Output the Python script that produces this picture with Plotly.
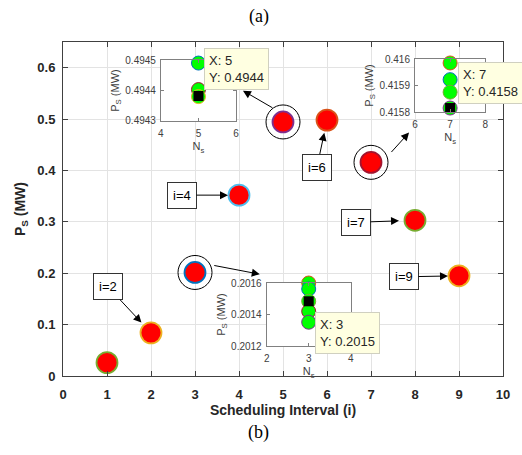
import plotly.graph_objects as go

# ---------------- data ----------------
intervals = [1, 2, 3, 4, 5, 6, 7, 8, 9]
ps_main = [0.026, 0.084, 0.2015, 0.352, 0.4944, 0.498, 0.4158, 0.303, 0.195]
edge_main = ["#77AC30", "#EDB120", "#0072BD", "#4DBEEE", "#7E2F8E",
             "#D95319", "#A2142F", "#77AC30", "#EDB120"]
highlight = [3, 5, 7]

x_ticks = list(range(0, 11))
y_ticks = [0, 0.1, 0.2, 0.3, 0.4, 0.5, 0.6]
y_ticklabels = ["0", "0.1", "0.2", "0.3", "0.4", "0.5", "0.6"]

# inset for i=5
ns5 = [5, 5, 5]
ps5 = [0.49449, 0.494403, 0.49438]
edge5 = ["#0072BD", "#A2142F", "#EDB120"]
sq5_x, sq5_y = [5], [0.494382]
ins5_yt = [0.4943, 0.4944, 0.4945]
ins5_ytl = ["0.4943", "0.4944", "0.4945"]
ins5_xt = [4, 5, 6]

# inset for i=7
ns7 = [7, 7, 7, 7]
ps7 = [0.415985, 0.415922, 0.415875, 0.415815]
edge7 = ["#D95319", "#0072BD", "#77AC30", "#7E2F8E"]
sq7_x, sq7_y = [7], [0.415815]
ins7_yt = [0.4158, 0.4159, 0.4160]
ins7_ytl = ["0.4158", "0.4159", "0.416"]
ins7_xt = [6, 7, 8]

# inset for i=3
ns3 = [3, 3, 3, 3, 3]
ps3 = [0.2016, 0.201562, 0.201484, 0.20142, 0.201351]
edge3 = ["#D95319", "#0072BD", "#77AC30", "#A2142F", "#7E2F8E"]
sq3_x, sq3_y = [3], [0.201484]
ins3_yt = [0.2012, 0.2014, 0.2016]
ins3_ytl = ["0.2012", "0.2014", "0.2016"]
ins3_xt = [2, 3, 4]

# datatip texts
tips = [("X: 5<br>Y: 0.4944", 0.3213, 0.982),
        ("X: 7<br>Y: 0.4158", 0.8966, 0.940),
        ("X: 3<br>Y: 0.2015", 0.5730, 0.1916)]

FONT = "Liberation Sans, Arial, sans-serif"
GREY = "#404040"

fig = go.Figure()

# main points
fig.add_trace(go.Scatter(
    x=intervals, y=ps_main, mode="markers",
    marker=dict(size=21, color="#FF0000",
                line=dict(color=edge_main, width=1.8)),
    showlegend=False, cliponaxis=False))

# highlight rings
fig.add_trace(go.Scatter(
    x=highlight, y=[ps_main[i - 1] for i in highlight], mode="markers",
    marker=dict(size=34, symbol="circle-open", color="black",
                line=dict(color="black", width=1)),
    showlegend=False, cliponaxis=False))


def inset(xa, ya, ns, ps, edges, sqx, sqy):
    fig.add_trace(go.Scatter(
        x=ns, y=ps, mode="markers", xaxis=xa, yaxis=ya,
        marker=dict(size=14, color="#00FF00", line=dict(color=edges, width=1)),
        showlegend=False, cliponaxis=False))
    fig.add_trace(go.Scatter(
        x=sqx, y=sqy, mode="markers", xaxis=xa, yaxis=ya,
        marker=dict(size=10, symbol="square", color="black",
                    line=dict(color="black", width=0)),
        showlegend=False, cliponaxis=False))


inset("x2", "y2", ns5, ps5, edge5, sq5_x, sq5_y)
inset("x3", "y3", ns7, ps7, edge7, sq7_x, sq7_y)
inset("x4", "y4", ns3, ps3, edge3, sq3_x, sq3_y)

main_axis = dict(showline=True, linecolor=GREY, linewidth=1, mirror="ticks",
                 ticks="inside", ticklen=5, tickcolor=GREY,
                 showgrid=True, gridcolor="#e3e3e3", gridwidth=1,
                 zeroline=False,
                 tickfont=dict(family=FONT, size=13, color="#262626", weight="bold"))

ins_tick = dict(family=FONT, size=10, color="#404040")
ins_title = dict(family=FONT, size=11, color="#404040")


def ins_axes(domx, domy, xr, yr, xt, yt, ytl, anchx, anchy):
    xa = dict(domain=domx, range=xr, anchor=anchy, tickvals=xt,
              showline=True, linecolor="#808080", linewidth=1, mirror="ticks",
              ticks="inside", ticklen=3, tickcolor="#808080", showgrid=False,
              zeroline=False, tickfont=ins_tick, ticklabelstandoff=3,
              title=dict(text="N<sub>s</sub>", font=ins_title, standoff=4))
    ya = dict(domain=domy, range=yr, anchor=anchx, tickvals=yt, ticktext=ytl,
              showline=True, linecolor="#808080", linewidth=1, mirror="ticks",
              ticks="inside", ticklen=3, tickcolor="#808080", showgrid=False,
              zeroline=False, tickfont=ins_tick, ticklabelstandoff=2,
              title=dict(text="P<sub>S</sub> (MW)", font=ins_title, standoff=3))
    return xa, ya


x2, y2 = ins_axes([0.2225, 0.3933], [0.7635, 0.9461], [4, 6], [0.4943, 0.4945],
                  ins5_xt, ins5_yt, ins5_ytl, "x2", "y2")
x3, y3 = ins_axes([0.800, 0.9596], [0.7904, 0.9491], [6, 8], [0.4158, 0.4160],
                  ins7_xt, ins7_yt, ins7_ytl, "x3", "y3")
x4, y4 = ins_axes([0.4629, 0.6539], [0.0898, 0.2784], [2, 4], [0.2012, 0.2016],
                  ins3_xt, ins3_yt, ins3_ytl, "x4", "y4")

annotations = []

# labelled arrows: (label, interval index, ax, ay, standoff)
labels = [("i=2", 2, -43, -46, 14), ("i=4", 4, -57, 0, 11), ("i=6", 6, -10, 47, 13),
          ("i=7", 8, -59, 2, 16), ("i=9", 9, -55, 1, 11)]
for txt, idx, ax, ay, so in labels:
    annotations.append(dict(
        x=idx, y=ps_main[idx - 1], xref="x", yref="y", text=txt,
        showarrow=True, arrowhead=2, arrowsize=1.6, arrowwidth=1, arrowcolor="black",
        ax=ax, ay=ay, standoff=so, bordercolor="#333333", borderwidth=1, borderpad=5,
        bgcolor="white", font=dict(family=FONT, size=13, color="black")))

# ring-to-inset arrows: (head x, head y, ax, ay)
ring_arrows = [(4.09, 0.5553, 31, 18), (7.865, 0.4738, -19, 21), (4.472, 0.1981, -47, -9)]
for hx, hy, ax, ay in ring_arrows:
    annotations.append(dict(
        x=hx, y=hy, xref="x", yref="y", text="", showarrow=True,
        arrowhead=2, arrowsize=1.6, arrowwidth=1, arrowcolor="black", ax=ax, ay=ay))

for txt, px, py in tips:
    annotations.append(dict(
        x=px, y=py, xref="paper", yref="paper", xanchor="left", yanchor="top",
        text=txt, align="left", showarrow=False, bgcolor="#FFFFE1",
        bordercolor="#d0d0c0", borderwidth=1, borderpad=4,
        font=dict(family=FONT, size=13, color="#262626")))

annotations.append(dict(x=0.445, y=1.075, xref="paper", yref="paper", text="(a)",
                        xanchor="center", yanchor="middle", showarrow=False,
                        font=dict(family="Liberation Serif, serif", size=18, color="black")))
annotations.append(dict(x=0.445, y=-0.168, xref="paper", yref="paper", text="(b)",
                        xanchor="center", yanchor="middle", showarrow=False,
                        font=dict(family="Liberation Serif, serif", size=18, color="black")))

fig.update_layout(
    width=522, height=455,
    margin=dict(l=63, r=14, t=42, b=79),
    paper_bgcolor="white", plot_bgcolor="white",
    xaxis=dict(main_axis, range=[0, 10], tickvals=x_ticks, ticklabelstandoff=6,
               title=dict(text="Scheduling Interval (i)", standoff=3,
                          font=dict(family=FONT, size=14, color="#262626", weight="bold"))),
    yaxis=dict(main_axis, range=[0, 0.65], tickvals=y_ticks, ticktext=y_ticklabels,
               ticklabelstandoff=4,
               title=dict(text="P<sub>S</sub> (MW)", standoff=8,
                          font=dict(family=FONT, size=14, color="#262626", weight="bold"))),
    xaxis2=x2, yaxis2=y2, xaxis3=x3, yaxis3=y3, xaxis4=x4, yaxis4=y4,
    annotations=annotations,
    showlegend=False,
)

fig.write_html("out.html")
